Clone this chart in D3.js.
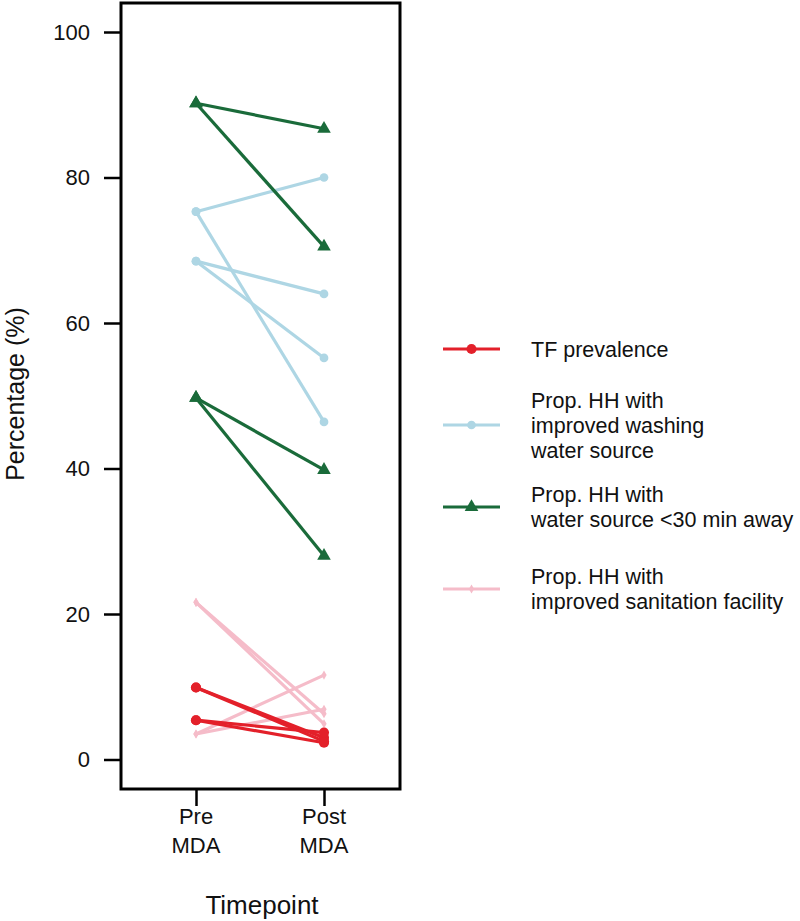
<!DOCTYPE html>
<html><head><meta charset="utf-8">
<script src="https://cdn.jsdelivr.net/npm/d3@7"></script>
<style>body{margin:0;background:#fff}svg{display:block;font-family:"Liberation Sans",Arial,sans-serif}</style>
</head><body><svg id="c" width="800" height="921"></svg>
<script>
const timepoints = ["Pre\nMDA", "Post\nMDA"];
const yTicks = [0, 20, 40, 60, 80, 100];
const seriesNames = ["TF prevalence", "Prop. HH with\nimproved washing\nwater source", "Prop. HH with\nwater source <30 min away", "Prop. HH with\nimproved sanitation facility"];
const seriesColors = ["#e3202a", "#aed6e4", "#1a6b3a", "#f5bcc9"];
const seriesShapes = ["circle", "circle", "triangle", "diamond"];
// each pair: [pre, post]
const tfPairs = [[9.9, 2.5], [9.9, 3.0], [5.4, 3.7], [5.4, 2.3]];
const washPairs = [[75.3, 80.0], [75.3, 46.4], [68.5, 64.0], [68.5, 55.2]];
const waterPairs = [[90.2, 86.7], [90.2, 70.5], [49.7, 39.8], [49.7, 28.0]];
const sanitPairs = [[21.6, 6.3], [21.6, 4.9], [3.5, 11.6], [3.5, 6.9]];
const allPairs = [tfPairs, washPairs, waterPairs, sanitPairs];

const svg = d3.select("#c");
const box = {l: 121, r: 400, t: 3, b: 789};
const x = d3.scalePoint().domain(timepoints).range([196, 324]);
const y = d3.scaleLinear().domain([0, 100]).range([759.5, 32]);

const order = [1, 2, 3, 0];
const symSize = [80, 60, 80, 24];
const symbolFor = s => s === "triangle" ? d3.symbolTriangle : (s === "diamond" ? d3.symbolDiamond : d3.symbolCircle);

order.forEach(i => {
  const g = svg.append("g");
  allPairs[i].forEach(p => {
    const pts = p.map((v, k) => [x(timepoints[k]), y(v)]);
    g.append("path").attr("d", d3.line()(pts)).attr("stroke", seriesColors[i])
      .attr("stroke-width", 3.2).attr("fill", "none");
    pts.forEach(pt => {
      g.append("path").attr("d", d3.symbol().type(symbolFor(seriesShapes[i])).size(symSize[i])())
        .attr("transform", `translate(${pt[0]},${pt[1]})`).attr("fill", seriesColors[i]);
    });
  });
});

// box
svg.append("rect").attr("x", box.l).attr("y", box.t).attr("width", box.r - box.l).attr("height", box.b - box.t)
  .attr("fill", "none").attr("stroke", "#000").attr("stroke-width", 3);

// y axis
const ya = svg.append("g").attr("transform", `translate(${box.l},0)`)
  .call(d3.axisLeft(y).tickValues(yTicks).tickSize(17).tickPadding(14));
ya.select(".domain").remove();
ya.selectAll(".tick line").attr("stroke", "#000").attr("stroke-width", 2.5);
ya.selectAll(".tick text").attr("font-size", 22).attr("fill", "#111").attr("font-family", "Liberation Sans, Arial, sans-serif");

// x axis
const xa = svg.append("g").attr("transform", `translate(0,${box.b})`)
  .call(d3.axisBottom(x).tickSize(17).tickFormat(""));
xa.select(".domain").remove();
xa.selectAll(".tick line").attr("stroke", "#000").attr("stroke-width", 2.5);
timepoints.forEach(t => {
  const txt = svg.append("text").attr("x", x(t)).attr("text-anchor", "middle").attr("font-size", 22).attr("fill", "#111");
  t.split("\n").forEach((s, k) => txt.append("tspan").attr("x", x(t)).attr("y", 824 + k * 29).text(s));
});

svg.append("text").attr("x", 262).attr("y", 914).attr("text-anchor", "middle").attr("font-size", 26).attr("fill", "#111").text("Timepoint");
svg.append("text").attr("transform", "translate(24,394) rotate(-90)").attr("text-anchor", "middle").attr("font-size", 25).attr("fill", "#111").text("Percentage (%)");

// legend
const legY = [349, 425, 507, 589];
seriesNames.forEach((name, i) => {
  const lines = name.split("\n");
  const cy = legY[i];
  svg.append("line").attr("x1", 443).attr("x2", 500).attr("y1", cy).attr("y2", cy)
    .attr("stroke", seriesColors[i]).attr("stroke-width", 3.2);
  svg.append("path").attr("d", d3.symbol().type(symbolFor(seriesShapes[i])).size(symSize[i])())
    .attr("transform", `translate(471.5,${cy})`).attr("fill", seriesColors[i]);
  const t = svg.append("text").attr("font-size", 21.5).attr("fill", "#111");
  const start = cy - (lines.length - 1) * 12.5;
  lines.forEach((s, k) => t.append("tspan").attr("x", 531).attr("y", start + k * 25 + 7.5).text(s));
});
</script></body></html>
